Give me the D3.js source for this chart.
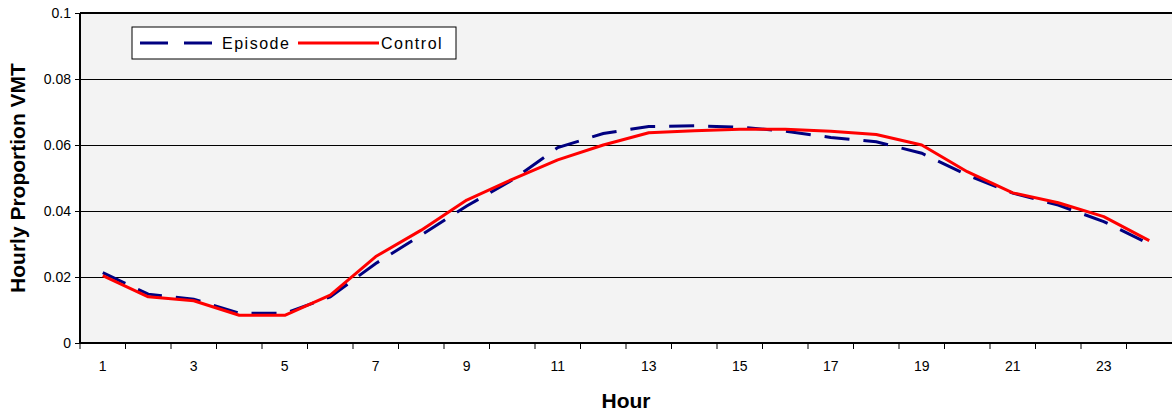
<!DOCTYPE html>
<html><head><meta charset="utf-8">
<script src="https://cdn.jsdelivr.net/npm/d3@7"></script>
<style>body{margin:0;background:#fff;} svg{display:block;font-family:"Liberation Sans",Arial,sans-serif;}</style>
</head><body>
<svg id="chart" width="1172" height="416"></svg>
<script>
const hours = d3.range(1, 25);
const episode = [0.0213,0.0148,0.0133,0.0090,0.0090,0.0140,0.0241,0.0327,0.0415,0.0494,0.0592,0.0635,0.0656,0.0658,0.0654,0.0642,0.0623,0.0610,0.0575,0.0509,0.0454,0.0418,0.0368,0.0300];
const control = [0.0204,0.0140,0.0128,0.0084,0.0084,0.0145,0.0262,0.0342,0.0433,0.0496,0.0555,0.0600,0.0637,0.0643,0.0648,0.0648,0.0642,0.0632,0.0600,0.0519,0.0455,0.0425,0.0383,0.0310];
const yTicks = [0, 0.02, 0.04, 0.06, 0.08, 0.1];
const xLabels = [1,3,5,7,9,11,13,15,17,19,21,23];
const seriesNames = ["Episode", "Control"];

const svg = d3.select("#chart");
const L = 80, R = 1172, T = 13, B = 343;
const x = d3.scaleBand().domain(hours).range([L, R]).padding(0);
const y = d3.scaleLinear().domain([0, 0.1]).range([B, T]);

svg.append("rect").attr("x", L).attr("y", T).attr("width", R - L).attr("height", B - T).attr("fill", "#f3f3f3");

// gridlines
svg.append("g").selectAll("line").data(yTicks.filter(d => d > 0 && d < 0.1)).join("line")
  .attr("x1", L).attr("x2", R).attr("y1", d => y(d)).attr("y2", d => y(d))
  .attr("stroke", "#000").attr("stroke-width", 1).attr("shape-rendering", "crispEdges");

// top border
svg.append("line").attr("x1", L).attr("x2", R).attr("y1", T).attr("y2", T).attr("stroke", "#000").attr("stroke-width", 2);

// y axis
const yAxis = svg.append("g").attr("transform", `translate(${L},0)`)
  .call(d3.axisLeft(y).tickValues(yTicks).tickSize(5).tickPadding(4).tickFormat(d => d === 0 ? "0" : String(+d.toFixed(2))));
yAxis.select(".domain").attr("stroke-width", 2).attr("d", `M0,${T}V${B}`);
yAxis.selectAll("text").attr("font-size", 14).attr("fill", "#000").attr("font-family", "Liberation Sans, Arial, sans-serif");

// x axis
const xAxis = svg.append("g").attr("transform", `translate(0,${B})`)
  .call(d3.axisBottom(x).tickSize(0).tickFormat(d => xLabels.includes(d) ? d : ""));
xAxis.select(".domain").attr("stroke-width", 2).attr("d", `M${L},0H${R}`);
xAxis.selectAll("text").attr("font-size", 14).attr("fill", "#000").attr("dy", "1.75em").attr("font-family", "Liberation Sans, Arial, sans-serif");
// category boundary ticks
xAxis.append("g").selectAll("line").data(hours).join("line")
  .attr("x1", d => x(d)).attr("x2", d => x(d)).attr("y1", 0).attr("y2", 6).attr("stroke", "#000");

// lines
const line = d3.line().x((d, i) => x(hours[i]) + x.bandwidth() / 2).y(d => y(d));
svg.append("path").datum(episode).attr("d", line).attr("fill", "none").attr("stroke", "#000080").attr("stroke-width", 3).attr("stroke-dasharray", "25,14");
svg.append("path").datum(control).attr("d", line).attr("fill", "none").attr("stroke", "#ff0000").attr("stroke-width", 3).attr("stroke-linejoin", "round");

// axis titles
svg.append("text").attr("x", (L + R) / 2).attr("y", 408).attr("text-anchor", "middle")
  .attr("font-size", 21).attr("font-weight", "bold").text("Hour");
svg.append("text").attr("transform", `translate(25,${(T + B) / 2}) rotate(-90)`).attr("text-anchor", "middle")
  .attr("font-size", 21).attr("font-weight", "bold").text("Hourly Proportion VMT");

// legend
const lg = svg.append("g");
lg.append("rect").attr("x", 132).attr("y", 27).attr("width", 324).attr("height", 32).attr("fill", "#fff").attr("stroke", "#000").attr("stroke-width", 1);
lg.append("line").attr("x1", 140).attr("x2", 212).attr("y1", 43).attr("y2", 43).attr("stroke", "#000080").attr("stroke-width", 3).attr("stroke-dasharray", "28,16");
lg.append("text").attr("x", 222).attr("y", 48.5).attr("font-size", 16).attr("letter-spacing", 1.5).text(seriesNames[0]);
lg.append("line").attr("x1", 298).attr("x2", 379).attr("y1", 43).attr("y2", 43).attr("stroke", "#ff0000").attr("stroke-width", 3);
lg.append("text").attr("x", 381).attr("y", 48.5).attr("font-size", 16).attr("letter-spacing", 1.5).text(seriesNames[1]);
</script>
</body></html>
